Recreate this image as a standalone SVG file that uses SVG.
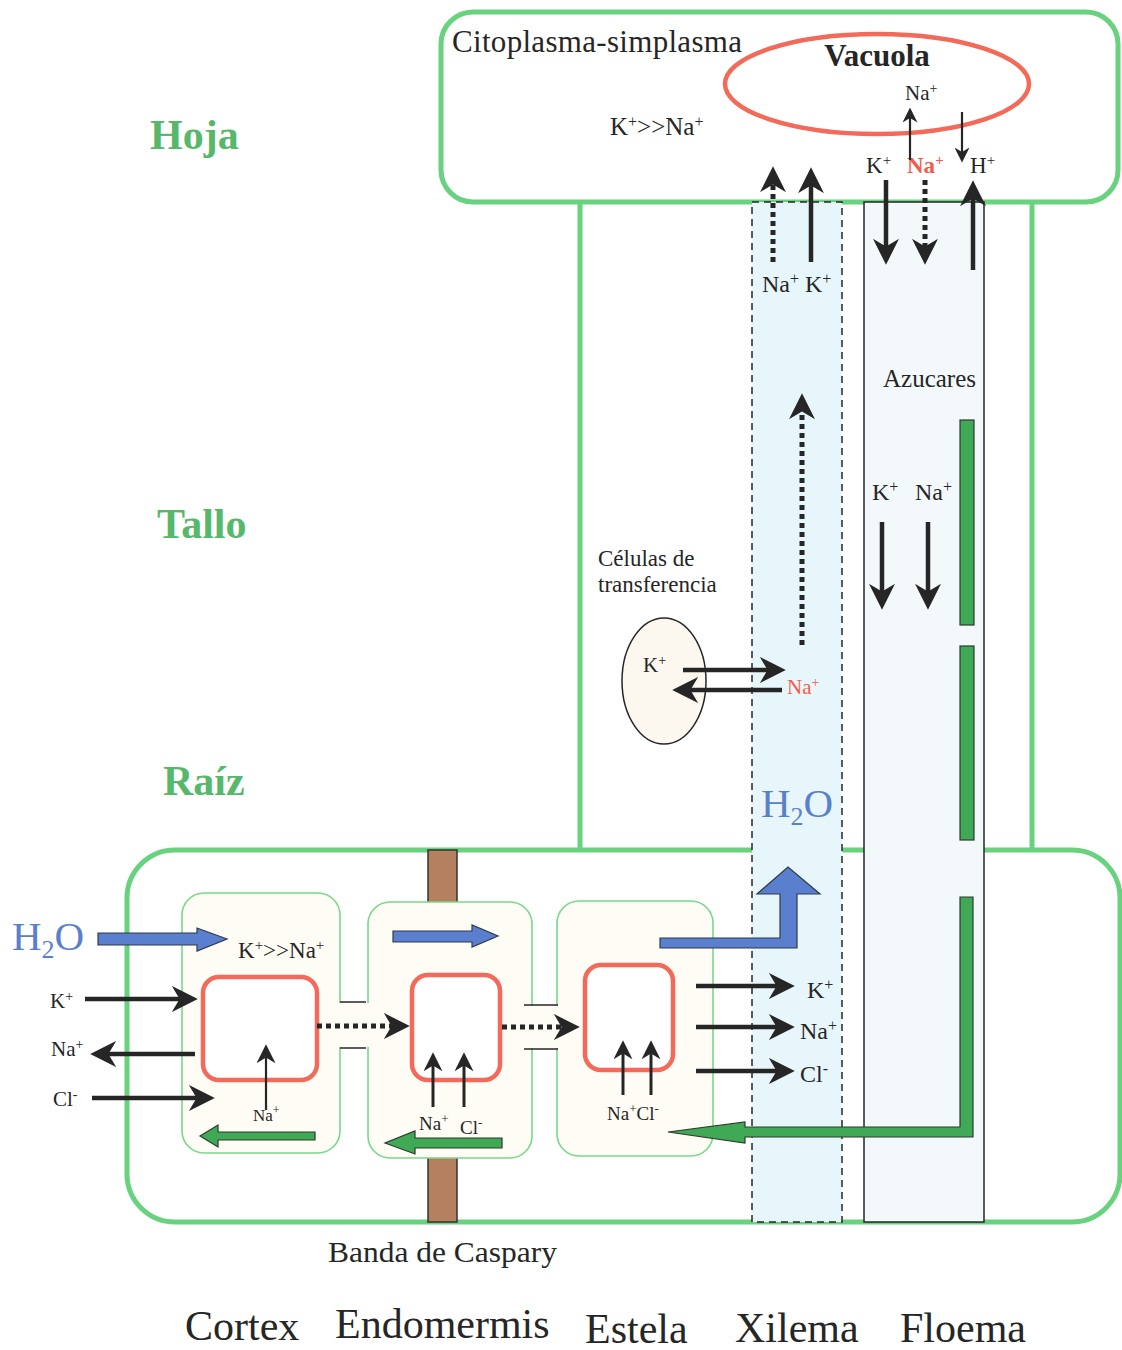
<svg xmlns="http://www.w3.org/2000/svg" width="1122" height="1350" viewBox="0 0 1122 1350">
<style>
text{font-family:"Liberation Serif","Times New Roman",serif;fill:#262626}
.big{stroke:#262626;stroke-width:4.5;fill:none}
.thin{stroke:#262626;stroke-width:2.2;fill:none}
.med{stroke:#262626;stroke-width:3;fill:none}
.dot{stroke:#262626;stroke-width:5;fill:none;stroke-dasharray:5 4}
.lbl{font-weight:bold;fill:#57b86c;font-size:42px}
.h2o{fill:#5a80cc;font-size:41px}
.blue{fill:#5b7fcf;stroke:#2f3a4a;stroke-width:1.2}
.garr{fill:#3fa955;stroke:#2e3a30;stroke-width:1.2}
.cell{fill:#fffcf5;stroke:#78d988;stroke-width:1.6}
.vac{fill:#ffffff;stroke:#f36a5a;stroke-width:4.5}
.wall{fill:none;stroke:#69d27f;stroke-width:5}
.red{fill:#f25c4c}
</style>
<defs>
<marker id="ab" viewBox="0 0 20 20" refX="14" refY="10" markerWidth="26" markerHeight="26" markerUnits="userSpaceOnUse" orient="auto"><path d="M0,0 L20,10 L0,20 L6,10 z" fill="#262626"/></marker>
<marker id="am" viewBox="0 0 20 20" refX="14" refY="10" markerWidth="19" markerHeight="19" markerUnits="userSpaceOnUse" orient="auto"><path d="M0,0 L20,10 L0,20 L6,10 z" fill="#262626"/></marker>
<marker id="as" viewBox="0 0 20 20" refX="14" refY="10" markerWidth="15" markerHeight="15" markerUnits="userSpaceOnUse" orient="auto"><path d="M0,0 L20,10 L0,20 L6,10 z" fill="#262626"/></marker>
</defs>

<g id="labels-left">
<text class="lbl" x="150" y="149">Hoja</text>
<text class="lbl" x="157" y="538">Tallo</text>
<text class="lbl" x="163" y="795">Raíz</text>
</g>

<g id="root">
<rect class="wall" x="127" y="850" width="993" height="372" rx="48" fill="#ffffff"/>
</g>
<g id="stem">
<line class="wall" x1="580" y1="200" x2="580" y2="852"/>
<line class="wall" x1="1032" y1="200" x2="1032" y2="852"/>
</g>
<g id="leaf">
<rect class="wall" x="441" y="12" width="677" height="190" rx="32" fill="#fdf8ef"/>
<ellipse id="vacuola" cx="877" cy="84" rx="152" ry="50" class="vac"/>
<text x="452" y="52" font-size="31" textLength="290">Citoplasma-simplasma</text>
<text x="877" y="66" font-size="31" font-weight="bold" text-anchor="middle">Vacuola</text>
<text x="905" y="100" font-size="21">Na<tspan font-size="14" baseline-shift="super">+</tspan></text>
<text x="610" y="135" font-size="25">K<tspan font-size="16" baseline-shift="super">+</tspan>&gt;&gt;Na<tspan font-size="16" baseline-shift="super">+</tspan></text>
<text x="866" y="173" font-size="23">K<tspan font-size="15" baseline-shift="super">+</tspan></text>
<text x="907" y="173" font-size="23" font-weight="bold" class="red">Na<tspan font-size="15" baseline-shift="super">+</tspan></text>
<text x="970" y="173" font-size="23">H<tspan font-size="15" baseline-shift="super">+</tspan></text>
</g>

<g id="xilema">
<rect x="752" y="202" width="90" height="1020" fill="#e7f6fb" stroke="#262626" stroke-width="1.5" stroke-dasharray="7 5"/>
<text x="762" y="292" font-size="24">Na<tspan font-size="16" baseline-shift="super">+</tspan> K<tspan font-size="16" baseline-shift="super">+</tspan></text>
<text class="h2o" x="761" y="817">H<tspan font-size="26" dy="8">2</tspan><tspan dy="-8">O</tspan></text>
</g>
<g id="floema">
<rect x="864" y="202" width="120" height="1020" fill="#f3f9fb" stroke="#262626" stroke-width="1.5"/>
<text x="883" y="387" font-size="25">Azucares</text>
<text x="872" y="500" font-size="24">K<tspan font-size="16" baseline-shift="super">+</tspan></text>
<text x="915" y="500" font-size="24">Na<tspan font-size="16" baseline-shift="super">+</tspan></text>
<rect x="960" y="420" width="14" height="205" class="garr"/>
<rect x="960" y="646" width="14" height="194" class="garr"/>
</g>

<g id="celulas-transferencia">
<ellipse cx="664" cy="681" rx="42" ry="63" fill="#fdf8ef" stroke="#262626" stroke-width="1.5"/>
<text x="598" y="566" font-size="23">Células de</text>
<text x="598" y="592" font-size="23">transferencia</text>
<text x="643" y="672" font-size="21">K<tspan font-size="14" baseline-shift="super">+</tspan></text>
<text x="787" y="694" font-size="21" class="red">Na<tspan font-size="14" baseline-shift="super">+</tspan></text>
</g>

<g id="banda-caspary">
<rect x="428" y="850" width="29" height="372" fill="#b5805f" stroke="#333" stroke-width="1.5"/>
</g>

<g id="cortex">
<rect class="cell" x="182" y="893" width="158" height="260" rx="22"/>
</g>
<g id="endodermis">
<rect class="cell" x="368" y="902" width="164" height="256" rx="22"/>
</g>
<g id="estela">
<rect class="cell" x="557" y="901" width="156" height="255" rx="22"/>
</g>
<g id="plasmodesmos">
<rect x="337" y="1003" width="34" height="44" fill="#fffcf5"/>
<line x1="340" y1="1002" x2="366" y2="1002" stroke="#262626" stroke-width="1.5"/>
<line x1="340" y1="1048" x2="366" y2="1048" stroke="#262626" stroke-width="1.5"/>
<rect x="528" y="1006" width="33" height="42" fill="#fffcf5"/>
<line x1="524" y1="1005" x2="558" y2="1005" stroke="#262626" stroke-width="1.5"/>
<line x1="524" y1="1049" x2="558" y2="1049" stroke="#262626" stroke-width="1.5"/>
</g>
<g id="vacuolas-raiz">
<rect class="vac" x="203" y="977" width="114" height="103" rx="16"/>
<rect class="vac" x="412" y="975" width="88" height="105" rx="16"/>
<rect class="vac" x="585" y="965" width="88" height="105" rx="16"/>
</g>

<g id="root-texts">
<text class="h2o" x="12" y="950">H<tspan font-size="26" dy="8">2</tspan><tspan dy="-8">O</tspan></text>
<text x="238" y="958" font-size="23">K<tspan font-size="15" baseline-shift="super">+</tspan>&gt;&gt;Na<tspan font-size="15" baseline-shift="super">+</tspan></text>
<text x="50" y="1008" font-size="21">K<tspan font-size="14" baseline-shift="super">+</tspan></text>
<text x="51" y="1056" font-size="21">Na<tspan font-size="14" baseline-shift="super">+</tspan></text>
<text x="53" y="1106" font-size="21">Cl<tspan font-size="14" baseline-shift="super">-</tspan></text>
<text x="253" y="1121" font-size="17">Na<tspan font-size="12" baseline-shift="super">+</tspan></text>
<text x="419" y="1130" font-size="19">Na<tspan font-size="13" baseline-shift="super">+</tspan></text>
<text x="460" y="1134" font-size="19">Cl<tspan font-size="13" baseline-shift="super">-</tspan></text>
<text x="607" y="1120" font-size="19">Na<tspan font-size="13" baseline-shift="super">+</tspan>Cl<tspan font-size="13" baseline-shift="super">-</tspan></text>
<text x="807" y="998" font-size="24">K<tspan font-size="16" baseline-shift="super">+</tspan></text>
<text x="800" y="1039" font-size="24">Na<tspan font-size="16" baseline-shift="super">+</tspan></text>
<text x="800" y="1082" font-size="24">Cl<tspan font-size="16" baseline-shift="super">-</tspan></text>
</g>

<g id="connectors">
<line class="thin" x1="910" y1="160" x2="910" y2="112" marker-end="url(#as)"/>
<line class="thin" x1="962" y1="112" x2="962" y2="158" marker-end="url(#as)"/>
<line class="dot" x1="773" y1="262" x2="773" y2="174" marker-end="url(#ab)"/>
<line class="big" x1="811" y1="262" x2="811" y2="175" marker-end="url(#ab)"/>
<line class="big" x1="886" y1="180" x2="886" y2="257" marker-end="url(#ab)"/>
<line class="dot" x1="925" y1="180" x2="925" y2="257" marker-end="url(#ab)"/>
<line class="big" x1="973" y1="270" x2="973" y2="188" marker-end="url(#ab)"/>
<line class="dot" x1="802" y1="645" x2="802" y2="401" marker-end="url(#ab)"/>
<line class="big" x1="882" y1="522" x2="882" y2="602" marker-end="url(#ab)"/>
<line class="big" x1="928" y1="522" x2="928" y2="602" marker-end="url(#ab)"/>
<line class="big" x1="683" y1="670" x2="778" y2="670" marker-end="url(#ab)"/>
<line class="big" x1="782" y1="690" x2="680" y2="690" marker-end="url(#ab)"/>
<line class="big" x1="85" y1="999" x2="190" y2="999" marker-end="url(#ab)"/>
<line class="big" x1="195" y1="1054" x2="98" y2="1054" marker-end="url(#ab)"/>
<line class="big" x1="92" y1="1098" x2="207" y2="1098" marker-end="url(#ab)"/>
<line class="thin" x1="266" y1="1110" x2="266" y2="1050" marker-end="url(#am)"/>
<line class="dot" x1="317" y1="1026" x2="402" y2="1026" marker-end="url(#ab)"/>
<line class="dot" x1="502" y1="1027" x2="572" y2="1027" marker-end="url(#ab)"/>
<line class="med" x1="433" y1="1107" x2="433" y2="1058" marker-end="url(#am)"/>
<line class="med" x1="464" y1="1107" x2="464" y2="1058" marker-end="url(#am)"/>
<line class="med" x1="623" y1="1095" x2="623" y2="1046" marker-end="url(#am)"/>
<line class="med" x1="651" y1="1095" x2="651" y2="1046" marker-end="url(#am)"/>
<line class="big" x1="696" y1="986" x2="787" y2="986" marker-end="url(#ab)"/>
<line class="big" x1="696" y1="1027" x2="787" y2="1027" marker-end="url(#ab)"/>
<line class="big" x1="696" y1="1071" x2="787" y2="1071" marker-end="url(#ab)"/>
<polygon class="blue" points="98,933 197,933 197,928 227,939 197,951 197,945 98,945"/>
<polygon class="blue" points="393,931 472,931 472,925 498,936 472,947 472,942 393,942"/>
<polygon class="blue" points="660,938 780,938 780,894 757,894 788,867 820,894 797,894 797,948 660,948"/>
<polygon class="garr" points="315,1132 218,1132 218,1125 200,1136 218,1147 218,1140 315,1140"/>
<polygon class="garr" points="502,1138 415,1138 415,1131 385,1143 415,1154 415,1148 502,1148"/>
<polygon class="garr" points="960,897 973,897 973,1137 745,1137 745,1143 668,1132 745,1122 745,1127 960,1127"/>
</g>

<g id="labels-bottom">
<text x="328" y="1262" font-size="30" textLength="229" lengthAdjust="spacingAndGlyphs">Banda de Caspary</text>
<text x="185" y="1340" font-size="42">Cortex</text>
<text x="335" y="1338" font-size="42">Endomermis</text>
<text x="585" y="1343" font-size="42">Estela</text>
<text x="735" y="1342" font-size="42">Xilema</text>
<text x="900" y="1342" font-size="42">Floema</text>
</g>
</svg>
